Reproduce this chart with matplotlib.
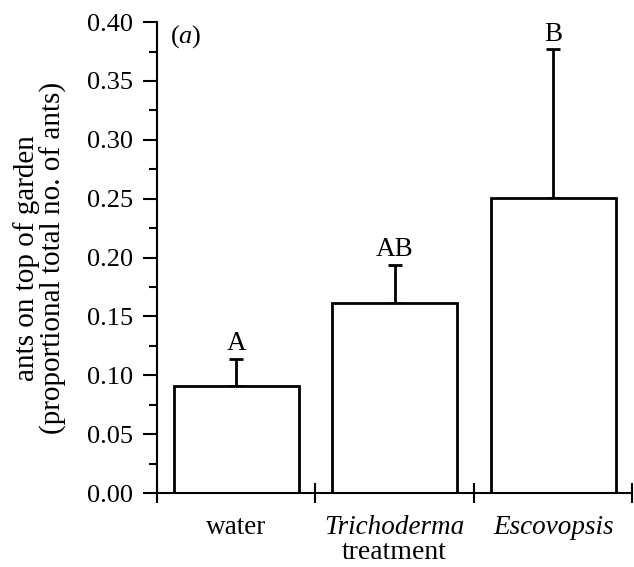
import numpy as np
import matplotlib
matplotlib.use("Agg")
import matplotlib.pyplot as plt
from matplotlib.ticker import MultipleLocator, FixedLocator

plt.rcParams["font.family"] = "Liberation Serif"
plt.rcParams["mathtext.fontset"] = "custom"
plt.rcParams["mathtext.rm"] = "Liberation Serif"
plt.rcParams["mathtext.it"] = "Liberation Serif:italic"

# data
treatments = ["water", "Trichoderma", "Escovopsis"]
italic     = [False, True, True]
means      = [0.091, 0.161, 0.251]
errors     = [0.023, 0.033, 0.126]
letters    = ["A", "AB", "B"]

fig = plt.figure(figsize=(6.34, 5.67), dpi=100)
ax = fig.add_axes([0.2476, 0.1305, 0.750, 0.8305])

x = np.arange(len(treatments))
ax.bar(x, means, width=0.79, color="white", edgecolor="black", linewidth=2.0, zorder=2)
ax.errorbar(x, means, yerr=[np.zeros(len(errors)), errors], fmt="none",
            ecolor="black", elinewidth=2.0, capsize=5, capthick=2.0, zorder=1)

# significance letters above the caps
for xi, m, e, lab in zip(x, means, errors, letters):
    ax.text(xi, m + e + 0.002, lab, ha="center", va="bottom", fontsize=19.5)

ax.set_xlim(-0.5, 2.5)
ax.set_ylim(0, 0.40)

# y axis
ax.yaxis.set_major_locator(MultipleLocator(0.05))
ax.yaxis.set_minor_locator(MultipleLocator(0.025))
ax.set_yticklabels([f"{v:.2f}" for v in ax.get_yticks()])
ax.tick_params(axis="y", which="major", length=10, width=1.5, labelsize=19, pad=7)
ax.tick_params(axis="y", which="minor", length=5.5, width=1.5)

# x axis: labels at centres, crossing ticks between categories
ax.set_xticks(x)
ax.set_xticklabels(treatments)
for lbl, it in zip(ax.get_xticklabels(), italic):
    if it:
        lbl.set_style("italic")
ax.xaxis.set_minor_locator(FixedLocator([-0.5, 0.5, 1.5, 2.5]))
ax.tick_params(axis="x", which="major", length=0, labelsize=19.5, pad=16)
ax.tick_params(axis="x", which="minor", length=14, width=1.5, direction="inout")

for side in ["top", "right"]:
    ax.spines[side].set_visible(False)
for side in ["left", "bottom"]:
    ax.spines[side].set_linewidth(1.5)

fig.text(40 / 634, 1 - 258 / 567, "ants on top of garden\n(proportional total no. of ants)",
         rotation=90, ha="center", va="center", multialignment="center",
         fontsize=21, linespacing=1.0)
ax.set_xlabel("treatment", fontsize=20, labelpad=0)

ax.text(0.028, 0.998, r"($\mathit{a}$)", transform=ax.transAxes, fontsize=19,
        ha="left", va="top")

fig.savefig("out.png", dpi=100, facecolor="white")
